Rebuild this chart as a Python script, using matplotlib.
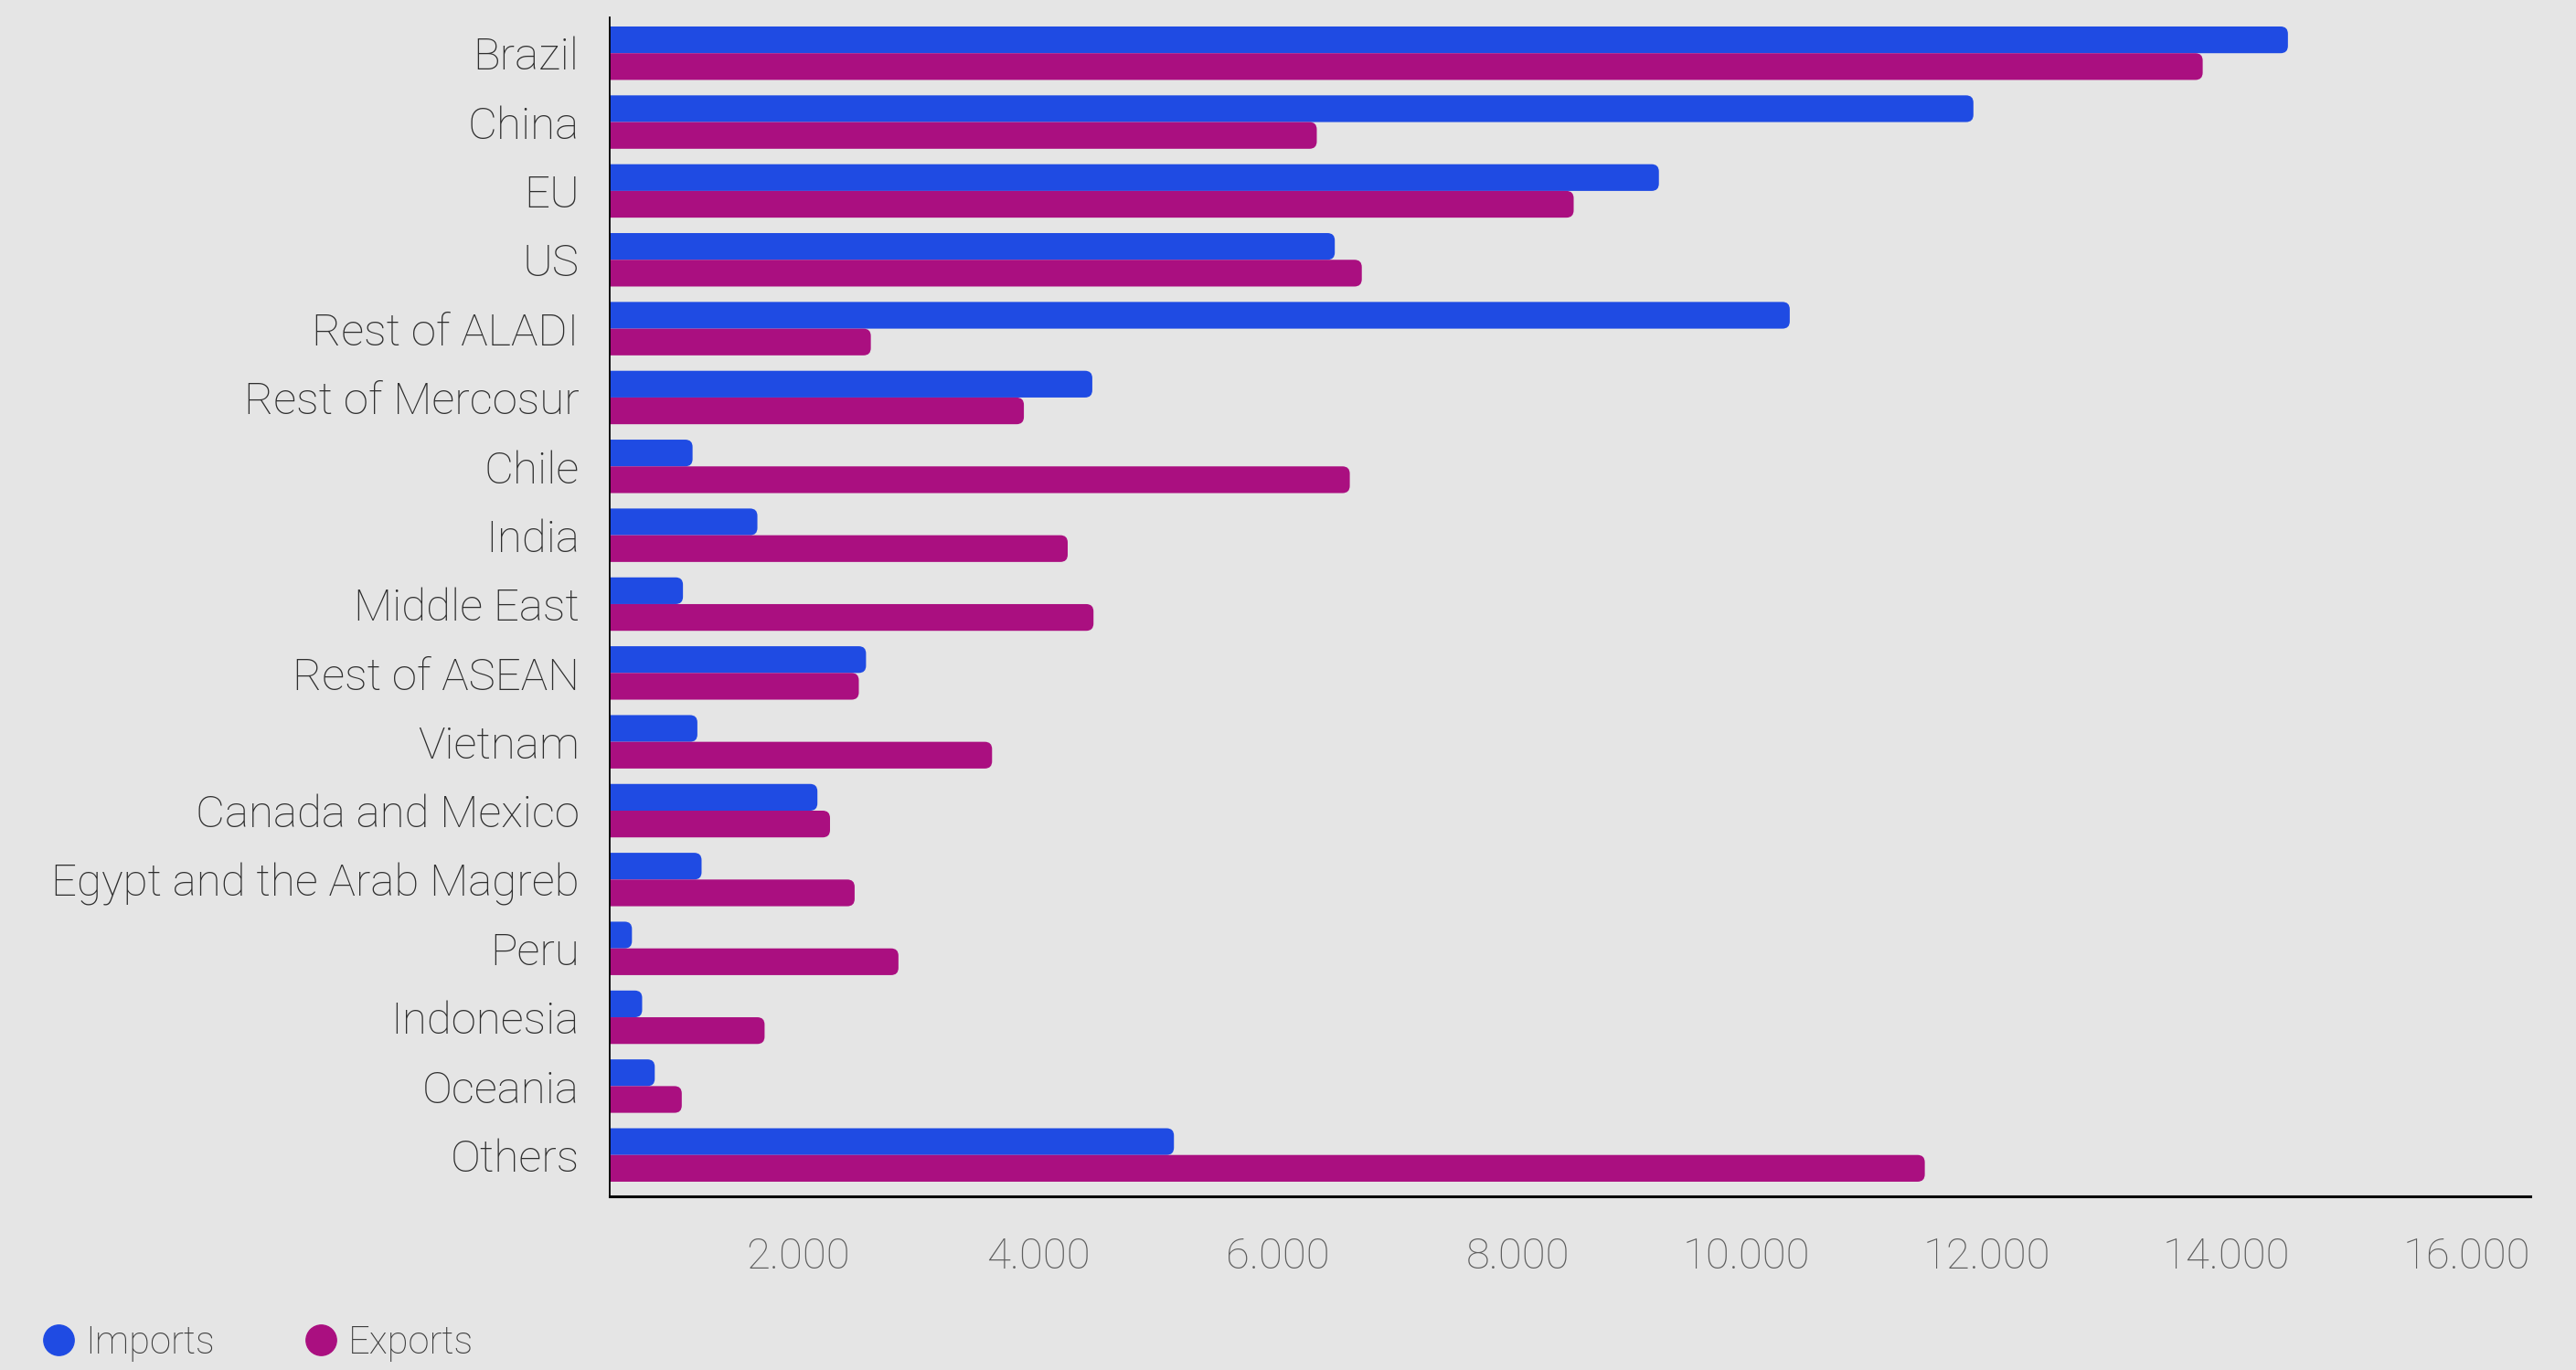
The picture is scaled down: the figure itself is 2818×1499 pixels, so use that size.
import matplotlib
matplotlib.use("Agg")
import matplotlib.pyplot as plt
from matplotlib.lines import Line2D
from matplotlib.patches import FancyBboxPatch
import numpy as np

# trade by partner
regions = ["Brazil", "China", "EU", "US", "Rest of ALADI", "Rest of Mercosur",
           "Chile", "India", "Middle East", "Rest of ASEAN", "Vietnam",
           "Canada and Mexico", "Egypt and the Arab Magreb", "Peru",
           "Indonesia", "Oceania", "Others"]
imports = [13980, 11360, 8740, 6040, 9830, 4020, 690, 1230, 610, 2135,
           730, 1730, 765, 185, 270, 375, 4700]
exports = [13270, 5890, 8030, 6265, 2175, 3450, 6165, 3815, 4030, 2075,
           3185, 1835, 2040, 2405, 1290, 600, 10955]
xticks = [2000, 4000, 6000, 8000, 10000, 12000, 14000, 16000]
xticklabels = ["2.000", "4.000", "6.000", "8.000", "10.000", "12.000", "14.000", "16.000"]

blue = "#1f4be3"
purple = "#aa0f80"
bg = "#e5e5e5"

plt.rcParams['font.family'] = ['Roboto', 'DejaVu Sans']

fig = plt.figure(figsize=(28.18, 14.99), dpi=100, facecolor=bg)
ax = fig.add_axes([0.2367, 0.1268, 0.7456, 0.8605])
ax.set_facecolor(bg)

y = np.arange(len(regions))
h = 0.388
bars_i = ax.barh(y - h / 2, imports, height=h, color=blue, label="Imports")
bars_e = ax.barh(y + h / 2, exports, height=h, color=purple, label="Exports")

ax.set_xlim(0, 16000)
ax.set_ylim(16.6, -0.52)

# rounded right ends: swap each rectangle for a rounded box (left end hidden by clip)
xpp = 16000 / 2101.0
ypp = 17.12 / 1290.0
for rect in list(bars_i) + list(bars_e):
    x0, y0 = rect.get_x(), rect.get_y()
    w, hh = rect.get_width(), rect.get_height()
    fb = FancyBboxPatch((x0 - 200, y0), w + 200, hh,
                        boxstyle="round,pad=0,rounding_size=%f" % (8 * xpp),
                        mutation_aspect=ypp / xpp, fc=rect.get_facecolor(),
                        ec="none", clip_on=True)
    ax.add_patch(fb)
    rect.set_visible(False)

ax.set_yticks(y)
ax.set_yticklabels(regions, fontsize=35.5, color="#2e2e2e", fontweight="light")
ax.set_xticks(xticks)
ax.set_xticklabels(xticklabels, fontsize=34, color="#5e5e5e", ha="right",
                   fontweight="light")
ax.tick_params(axis="y", length=0, pad=24)
ax.tick_params(axis="x", length=0, pad=32)

for s in ["top", "right"]:
    ax.spines[s].set_visible(False)
ax.spines["left"].set_linewidth(1.3)
ax.spines["bottom"].set_linewidth(2.2)

handles = [Line2D([], [], marker="o", ls="", color=blue, markersize=24),
           Line2D([], [], marker="o", ls="", color=purple, markersize=24)]
leg = fig.legend(handles, ["Imports", "Exports"], loc="center left",
                 bbox_to_anchor=(0.002, 1 - 1469 / 1499), ncol=2, frameon=False,
                 fontsize=30, handletextpad=0.2, columnspacing=2.3,
                 handlelength=1.0)
for t in leg.get_texts():
    t.set_color("#3c3c3c")
    t.set_fontweight("light")

fig.savefig("out.png", dpi=100, facecolor=bg)
